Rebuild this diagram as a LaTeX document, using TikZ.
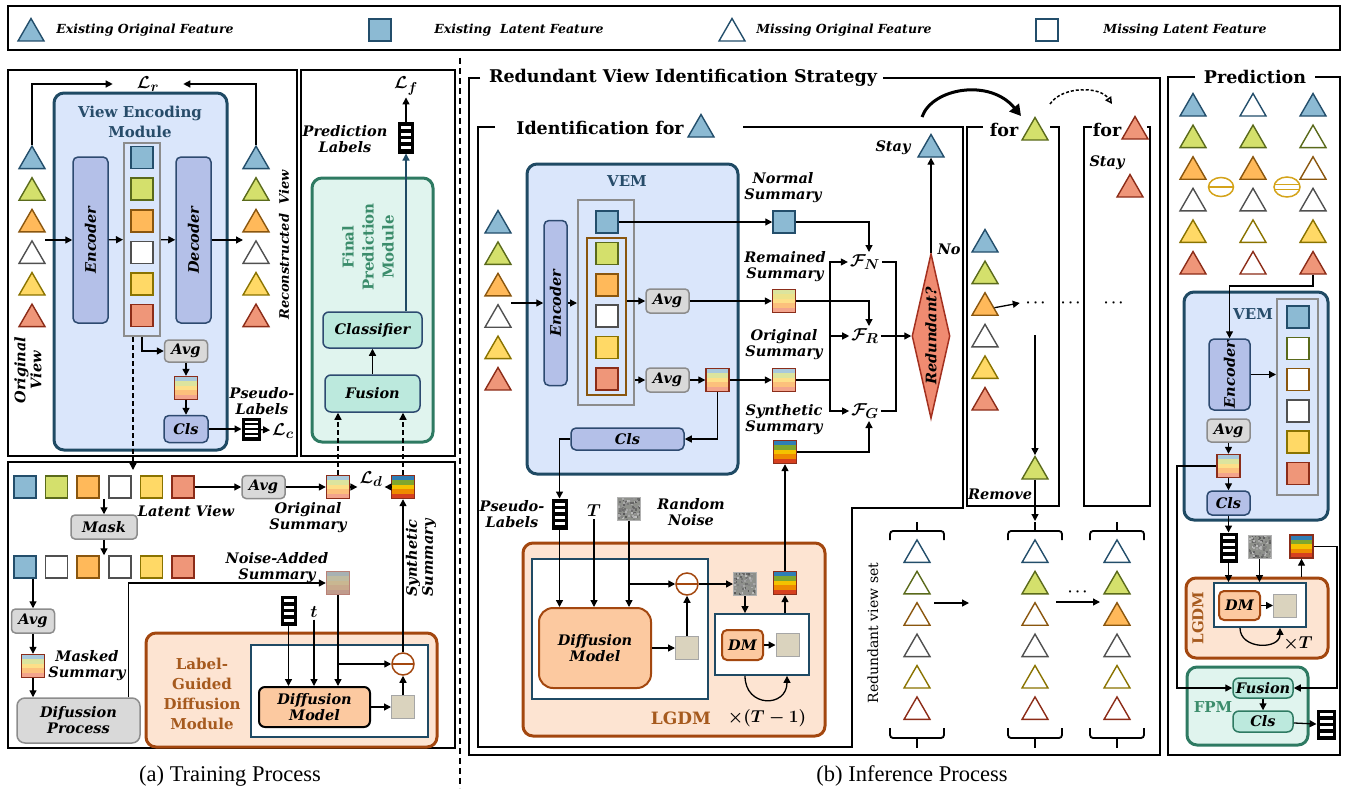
\documentclass[tikz,border=0pt]{standalone}
\usepackage{fontspec}
\setmainfont{DejaVu Serif}
\newfontfamily\capfont{Liberation Serif}
\usepackage{amsmath,bm}
\usetikzlibrary{arrows.meta,positioning,shapes.geometric,calc}

% feature colours (L = fill, D = border, o... = missing)
\definecolor{vblueL}{HTML}{8CBAD3}\definecolor{vblueD}{HTML}{234E6B}
\definecolor{vgreenL}{HTML}{D4E06C}\definecolor{vgreenD}{HTML}{5A6A1B}
\definecolor{vorangeL}{HTML}{FFB95A}\definecolor{vorangeD}{HTML}{8A560E}
\definecolor{vgrayL}{HTML}{FFFFFF}\definecolor{vgrayD}{HTML}{505050}
\definecolor{vyellowL}{HTML}{FFD966}\definecolor{vyellowD}{HTML}{8A7300}
\definecolor{vredL}{HTML}{EF9679}\definecolor{vredD}{HTML}{8C2C18}
\colorlet{oblueL}{white}\colorlet{oblueD}{vblueD}
\colorlet{ogreenL}{white}\colorlet{ogreenD}{vgreenD}
\colorlet{oorangeL}{white}\colorlet{oorangeD}{vorangeD}
\colorlet{ograyL}{white}\colorlet{ograyD}{vgrayD}
\colorlet{oyellowL}{white}\colorlet{oyellowD}{vyellowD}
\colorlet{oredL}{white}\colorlet{oredD}{vredD}
% module colours
\definecolor{vemF}{HTML}{DAE6FB}\definecolor{vemD}{HTML}{1F4A64}\definecolor{vemT}{HTML}{274C6A}
\definecolor{encF}{HTML}{B4C0E8}\definecolor{encD}{HTML}{2D4A70}
\definecolor{avgF}{HTML}{D9D9D9}\definecolor{avgD}{HTML}{8C8C8C}
\definecolor{fpmF}{HTML}{E0F4EE}\definecolor{fpmD}{HTML}{2E7A62}\definecolor{fpmT}{HTML}{3B8C6B}
\definecolor{clsF}{HTML}{BCE9DD}
\definecolor{lgF}{HTML}{FDE4D2}\definecolor{lgD}{HTML}{A3470F}\definecolor{lgT}{HTML}{A65A1E}
\definecolor{dmF}{HTML}{FCC9A0}
\definecolor{redF}{HTML}{F08B71}\definecolor{redD}{HTML}{A3301F}
\definecolor{sumD}{HTML}{8B2D1A}
\definecolor{noiseA}{HTML}{8E908B}
\definecolor{beigeC}{HTML}{DAD3BE}
\definecolor{goldC}{HTML}{D4A31A}
% summary stripes
\definecolor{oS1}{HTML}{A9C9DC}\definecolor{oS2}{HTML}{DCE49E}\definecolor{oS3}{HTML}{FDDF88}
\definecolor{oS4}{HTML}{FCC07C}\definecolor{oS5}{HTML}{F3A48C}
\definecolor{sS1}{HTML}{2F7EB5}\definecolor{sS2}{HTML}{7FA62E}\definecolor{sS3}{HTML}{F4C300}
\definecolor{sS4}{HTML}{EE8A00}\definecolor{sS5}{HTML}{D6401F}
\definecolor{rS1}{HTML}{DCE49E}\definecolor{rS2}{HTML}{EDE28A}
\definecolor{nS1}{HTML}{A7B1B3}\definecolor{nS2}{HTML}{BFBBA0}\definecolor{nS3}{HTML}{C9B791}
\definecolor{nS4}{HTML}{C8A98C}\definecolor{nS5}{HTML}{C09B8C}

\newcommand\labfont{\fontsize{14.5}{16}\selectfont\bfseries\itshape}
\newcommand\legfont{\fontsize{12.5}{14}\selectfont\bfseries\itshape}
\newcommand\titfont{\fontsize{17.5}{20}\selectfont\bfseries}
\newcommand\modfont{\fontsize{15}{20}\selectfont\bfseries}
\newcommand\stripes[5]{%
  \foreach \stc [count=\sti from 0] in {#1,#2,#3,#4,#5}{%
    \fill[fill=\stc] ($(path picture bounding box.north west)!{\sti/5}!(path picture bounding box.south west)$)
      rectangle ($(path picture bounding box.north east)!{(\sti+1)/5}!(path picture bounding box.south east)$);}}
\newcommand\specks{%
  \foreach \q in {1,...,90}{%
    \pgfmathsetmacro\gx{23*rnd}\pgfmathsetmacro\gy{23*rnd}\pgfmathsetmacro\gs{int(35+40*rnd)}%
    \fill[fill=white!\gs!black] ($(path picture bounding box.north west)+(\gx,\gy)$) rectangle +(2,2);}}
\pgfmathsetseed{11}

\begin{document}
\begin{tikzpicture}[x=1pt, y=-1pt,
  frame/.style={line width=1.8pt},
  line/.style={line width=1.3pt},
  arr/.style={-{Triangle[length=7pt,width=7pt]}, line width=1.3pt},
  darr/.style={arr, dash pattern=on 5pt off 3pt},
  txt/.style={font=\labfont, align=center, inner sep=0pt},
  mathn/.style={inner sep=2pt, font=\fontsize{19}{21}\selectfont\boldmath},
  tri/.style={regular polygon, regular polygon sides=3, minimum size=30pt, inner sep=0pt,
    line width=1.4pt, yshift=-3.5pt, draw=#1D, fill=#1L},
  sq/.style={rectangle, minimum size=22pt, inner sep=0pt, line width=1.5pt, draw=#1D, fill=#1L},
  sumbox/.style={rectangle, minimum size=23pt, inner sep=0pt, line width=1.4pt, draw=sumD},
  osum/.style={sumbox, path picture={\stripes{oS1}{oS2}{oS3}{oS4}{oS5}}},
  rsum/.style={sumbox, path picture={\stripes{rS1}{rS2}{oS3}{oS4}{oS5}}},
  ssum/.style={sumbox, path picture={\stripes{sS1}{sS2}{sS3}{sS4}{sS5}}},
  nsum/.style={sumbox, draw=sumD!60, path picture={\stripes{nS1}{nS2}{nS3}{nS4}{nS5}}},
  noisy/.style={rectangle, minimum size=23pt, inner sep=0pt, line width=1pt, draw=gray!60,
    fill=noiseA, path picture={\specks}},
  beige/.style={rectangle, minimum size=23pt, inner sep=0pt, line width=1pt, draw=gray!70, fill=beigeC},
  labs/.style={rectangle, fill=black, draw=black, line width=1pt, inner sep=0pt,
    path picture={\foreach \lk in {0,1,2,3}{\fill[white]
      ($(path picture bounding box.north west)!{0.12+0.22*\lk}!(path picture bounding box.south west)+(2.5,0)$) rectangle
      ($(path picture bounding box.north east)!{0.22+0.22*\lk}!(path picture bounding box.south east)+(-2.5,0)$);}}},
  module/.style={rectangle, rounded corners=10pt, line width=3pt, inner sep=0pt},
  vembox/.style={module, fill=vemF, draw=vemD},
  fpmbox/.style={module, fill=fpmF, draw=fpmD},
  lgdmbox/.style={module, fill=lgF, draw=lgD},
  encbox/.style={rectangle, rounded corners=5pt, line width=1.5pt, fill=encF, draw=encD, font=\labfont, inner sep=0pt},
  avgbox/.style={rectangle, rounded corners=4pt, line width=1.5pt, fill=avgF, draw=avgD, font=\labfont, align=center, inner sep=0pt},
  fpmin/.style={rectangle, rounded corners=6pt, line width=1.5pt, fill=clsF, draw=encD, font=\labfont, inner sep=0pt},
  dmbox/.style={rectangle, rounded corners=6pt, line width=2pt, fill=dmF, draw=lgD, font=\labfont, align=center, inner sep=0pt},
  whitebox/.style={rectangle, line width=1.8pt, draw=vemD, fill=white, inner sep=0pt},
  latcol/.style={rectangle, line width=2pt, draw=avgD, inner sep=0pt},
  minus/.style={circle, draw=#1, line width=1.5pt, minimum size=22pt, inner sep=0pt,
    path picture={\draw[draw=#1, line width=1.5pt] (path picture bounding box.west) -- (path picture bounding box.east);}},
  eqs/.style={ellipse, draw=#1, line width=1.5pt, minimum width=26pt, minimum height=20pt, inner sep=0pt,
    path picture={\draw[draw=#1, line width=1.5pt]
      ($(path picture bounding box.west)+(0,-2.5)$) -- ($(path picture bounding box.east)+(0,-2.5)$)
      ($(path picture bounding box.west)+(0,2.5)$) -- ($(path picture bounding box.east)+(0,2.5)$);}},
  brc/.style={line width=1.8pt, rounded corners=3pt}
]
\useasboundingbox (0,0) rectangle (1348,800);

% legend
\draw[frame] (8,6) rectangle (1340,50);
\node[tri=vblue] (lgA) at (31,30) {};
\node[txt, font=\legfont] (lgAt) at (145,30) {Existing Original Feature};
\node[sq=vblue] (lgB) at (380,30) {};
\node[txt, font=\legfont] (lgBt) at (519,30) {Existing\ \ Latent Feature};
\node[tri=oblue] (lgC) at (732,30) {};
\node[txt, font=\legfont] (lgCt) at (844,30) {Missing Original Feature};
\node[sq=oblue] (lgD) at (1047,30) {};
\node[txt, font=\legfont] (lgDt) at (1185,30) {Missing Latent Feature};

% frames
\draw[frame] (8,70) rectangle (297,456);
\draw[frame] (301,70) rectangle (455,456);
\draw[frame] (8,462) rectangle (455,748);
\draw[line width=1.3pt, dash pattern=on 6pt off 4pt] (460,58) -- (460,788);

% ---------------- (a) view encoding module
\node[vembox, minimum width=173pt, minimum height=357pt] (vemA) at (140.5,271.5) {};
\node[txt, font=\modfont, text=vemT] (vemAt) at (140,122) {View Encoding\\Module};
\node[encbox, rotate=90, minimum width=166pt, minimum height=35pt] (encA) at (90.5,240) {Encoder};
\node[latcol, minimum width=36pt, minimum height=193pt] (colA) at (142,239.5) {};
\node[encbox, rotate=90, minimum width=166pt, minimum height=35pt] (decA) at (193.5,240) {Decoder};
\foreach \cl [count=\i] in {vblue,vgreen,vorange,vgray,vyellow,vred}{
  \node[tri=\cl] (tL\i) at (32,{126+31.6*\i}) {};
  \node[sq=\cl] (lA\i) at (142,{126+31.6*\i}) {};
  \node[tri=\cl] (tR\i) at (256,{126+31.6*\i}) {};
}
\coordinate (inA) at (45,240);
\coordinate (outA) at (243,240);
\draw[arr] (inA) -- (encA);
\draw[arr] (encA) -- (colA);
\draw[arr] (colA) -- (decA);
\draw[arr] (decA) -- (outA);
\node[mathn] (lr) at (148,84) {$\mathcal{L}_r$};
\draw[arr] (tL1.north) |- ([xshift=-22pt]lr.west);
\draw[arr] (tR1.north) |- ([xshift=22pt]lr.east);
\node[txt, rotate=90] (ovA) at (28,370) {Original\\View};
\node[txt, font=\fontsize{13}{15}\selectfont\bfseries\itshape, rotate=90] (rvA) at (284,245) {Reconstructed\ \ View};
\node[avgbox, minimum width=43pt, minimum height=22pt] (avgA) at (186,351) {Avg};
\node[osum] (sumA) at (186,388) {};
\node[encbox, minimum width=44pt, minimum height=27pt] (clsA) at (186,429) {Cls};
\node[labs, minimum width=18pt, minimum height=22pt] (labA) at (251,429) {};
\node[mathn] (lc) at (283,431) {$\mathcal{L}_c$};
\node[txt] (plA) at (262,401) {Pseudo-\\Labels};
\draw[arr] (colA.south) |- (avgA);
\draw[arr] (avgA) -- (sumA);
\draw[arr] (sumA) -- (clsA);
\draw[arr] (clsA) -- (labA);
\draw[arr] (labA) -- (lc);
\coordinate (latIn) at (133,470);
\draw[darr] ([xshift=-9pt]colA.south) -- (latIn);

% ---------------- (a) final prediction module
\node[fpmbox, minimum width=121pt, minimum height=264pt] (fpmA) at (372.5,310) {};
\node[txt, font=\modfont, text=fpmT, rotate=90] (fpmAt) at (368,247) {Final\\Prediction\\Module};
\node[fpmin, minimum width=99pt, minimum height=36pt] (classA) at (372.5,330) {Classifier};
\node[fpmin, minimum width=95pt, minimum height=37pt] (fusA) at (372.5,393.5) {Fusion};
\node[labs, minimum width=15pt, minimum height=31pt] (labF) at (406,137.5) {};
\node[txt] (plF) at (345,139) {Prediction\\Labels};
\node[mathn] (lf) at (406,86) {$\mathcal{L}_f$};
\draw[arr] (fusA) -- (classA);
\draw[arr, draw=vemD] (classA.north -| labF) -- (labF);
\draw[arr] (labF) -- (lf);

% ---------------- (a) label-guided diffusion training
\foreach \cl [count=\i] in {vblue,vgreen,vorange,vgray,vyellow,vred}
  \node[sq=\cl] (rA\i) at ({25+31.6*(\i-1)},487) {};
\foreach \cl [count=\i] in {vblue,vgray,vorange,vgray,vyellow,vred}
  \node[sq=\cl] (rB\i) at ({25+31.6*(\i-1)},567) {};
\node[avgbox, minimum width=43pt, minimum height=23pt] (avgB) at (263.5,487) {Avg};
\node[osum] (sumO) at (338,487) {};
\node[ssum] (sumS) at (403,487) {};
\node[mathn] (ld) at (371,479) {$\mathcal{L}_d$};
\node[txt] (lvA) at (186,511) {Latent View};
\node[txt] (osA) at (308,518) {Original\\Summary};
\draw[arr] (rA6) -- (avgB);
\draw[arr] (avgB) -- (sumO);
\draw[arr] (sumO.east) -- (sumO.east -| ld.west);
\draw[arr] (sumS.west) -- (sumS.west -| ld.east);
\node[avgbox, minimum width=66pt, minimum height=24pt] (maskA) at (104,527) {Mask};
\draw[arr] ($(rA3.south)!0.5!(rA4.south)$) -- (maskA);
\draw[arr] (maskA) -- ($(rB3.north)!0.5!(rB4.north)$);
\node[avgbox, minimum width=43pt, minimum height=24pt] (avgC) at (33,621) {Avg};
\node[osum] (sumM) at (33,666) {};
\node[txt] (msA) at (87,666) {Masked\\Summary};
\node[avgbox, rounded corners=8pt, minimum width=123pt, minimum height=45pt] (diffP) at (78.5,720.5) {Difussion\\Process};
\draw[arr] (rB1.south -| avgC) -- (avgC);
\draw[arr] (avgC) -- (sumM);
\draw[arr] (sumM) -- (sumM |- diffP.north);
\node[nsum] (sumN) at (338,583) {};
\node[txt] (nsA) at (277,568) {Noise-Added\\Summary};
\draw[arr] ([xshift=50pt]diffP.north) |- (sumN);
\node[labs, minimum width=15pt, minimum height=29pt] (labB) at (288.5,610.5) {};
\node[mathn] (tA) at (314,612) {$t$};
\node[lgdmbox, minimum width=291pt, minimum height=114pt] (lgdmA) at (291.5,690) {};
\node[txt, font=\modfont, text=lgT] (lgdmAt) at (202,694) {Label-\\Guided\\Diffusion\\Module};
\node[whitebox, minimum width=177pt, minimum height=92pt] (wA) at (339.5,691) {};
\node[dmbox, draw=black, minimum width=111pt, minimum height=40pt] (dmA) at (314.5,707) {Diffusion\\Model};
\node[minus=lgD] (minusA) at (403,664) {};
\node[beige] (outA2) at (403,707) {};
\draw[arr] (labB) -- (labB |- dmA.north);
\draw[arr] (tA) -- (tA |- dmA.north);
\draw[arr] (sumN) -- (sumN |- dmA.north);
\draw[arr] (sumN |- minusA) -- (minusA);
\draw[arr] (dmA) -- (outA2);
\draw[arr] (outA2) -- (minusA);
\draw[arr] (minusA) -- (sumS);
\node[txt, rotate=90] (ssA) at (421,558) {Synthetic\\Summary};
\draw[darr] (sumO) -- (sumO |- fusA.south);
\draw[darr] (sumS) -- (sumS |- fusA.south);

% ---------------- (b) redundant view identification
\draw[frame] (480,78) -- (469,78) -- (469,755) -- (1160,755) -- (1160,78) -- (883,78);
\node[txt, font=\titfont] (stratT) at (683,78) {Redundant View Identification Strategy};
\draw[frame] (495,127) -- (478,127) -- (478,747) -- (852,747) -- (852,508) -- (963,508) -- (963,127) -- (743,127);
\node[txt, font=\titfont] (idT) at (600,128) {Identification for};
\node[tri=vblue] (idTri) at (701,126) {};

\node[vembox, minimum width=211pt, minimum height=310pt] (vemB) at (632.5,319) {};
\node[txt, font=\fontsize{15}{17}\selectfont\bfseries, text=vemT] (vemBt) at (627,181) {VEM};
\node[encbox, rotate=90, minimum width=165pt, minimum height=23pt] (encB) at (555.5,303) {Encoder};
\node[latcol, minimum width=56pt, minimum height=205pt] (colB) at (606,302.5) {};
\node[rectangle, draw=vorangeD, line width=2pt, minimum width=39pt, minimum height=157pt] (brB) at (606.5,316.5) {};
\node[sq=vblue] (sqB0) at (607,222) {};
\foreach \cl [count=\i] in {vblue,vgreen,vorange,vgray,vyellow,vred}
  \node[tri=\cl] (tB\i) at (498,{190.6+31.4*\i}) {};
\foreach \cl [count=\i] in {vgreen,vorange,vgray,vyellow,vred}
  \node[sq=\cl] (sqB\i) at (607,{222+31.4*\i}) {};
\coordinate (inB) at (511,303);
\draw[arr] (inB) -- (encB);
\draw[arr] (encB) -- (encB -| colB.west);
\node[avgbox, minimum width=43pt, minimum height=24pt] (avgB1) at (667.5,301) {Avg};
\node[avgbox, minimum width=43pt, minimum height=24pt] (avgB2) at (667.5,380) {Avg};
\node[osum] (sumB) at (717.5,380) {};
\node[encbox, minimum width=113pt, minimum height=22pt] (clsB) at (627.5,439) {Cls};
\draw[arr] (brB.east |- avgB1) -- (avgB1);
\draw[arr] (colB.east |- avgB2) -- (avgB2);
\draw[arr] (avgB2) -- (sumB);
\draw[arr] (sumB) |- (clsB);

\node[sq=vblue] (normB) at (784,222) {};
\node[txt] (nsT) at (783,188) {Normal\\Summary};
\node[rsum] (remB) at (784,301) {};
\node[txt] (rsT) at (785,267) {Remained\\Summary};
\node[osum] (origB) at (784,380) {};
\node[txt] (osT) at (784,345) {Original\\Summary};
\node[ssum] (synB) at (785,452) {};
\node[txt] (ssT) at (784,420) {Synthetic\\Summary};
\draw[arr] (sqB0) -- (normB);
\draw[arr] (avgB1) -- (remB);
\draw[arr] (sumB) -- (origB);

\node[mathn] (fN) at (865,262) {$\mathcal{F}_N$};
\node[mathn] (fR) at (865,336) {$\mathcal{F}_R$};
\node[mathn] (fG) at (865,411) {$\mathcal{F}_G$};
\draw[arr] (normB) -| ([xshift=4pt]fN.north);
\draw[arr] (remB) -| ([xshift=4pt]fR.north);
\draw[arr] (synB) -| ([xshift=4pt]fG.south);
\coordinate (busL) at (830,380);
\coordinate (busR) at (896,336);
\draw[line] (origB) -- (busL);
\draw[arr] (busL) |- (fN);
\draw[arr] (busL) |- (fG);
\draw[arr] (busL |- fR) -- (fR);
\draw[line] (fN) -| (busR);
\draw[line] (fG) -| (busR);
\node[diamond, aspect=4, rotate=90, minimum width=165pt, minimum height=38pt, inner sep=0pt,
  fill=redF, draw=redD, line width=1.5pt, font=\labfont] (redq) at (931,336) {Redundant?};
\draw[arr] (fR) -- (redq.north);
\node[tri=vblue] (stayT) at (931,146) {};
\node[txt] (stayTx) at (893,148) {Stay};
\node[txt] (noT) at (949,249) {No};
\draw[arr] (redq.east) -- (stayT.south);

% moving to the next view
\coordinate (cvA) at (922,117);
\coordinate (cvB) at (1021,116);
\draw[line width=3pt, -{Triangle[length=11pt,width=12pt]}] (cvA) .. controls (932,88) and (990,78) .. (cvB);
\coordinate (cvC) at (1050,104);
\coordinate (cvD) at (1112,104);
\draw[line width=1.5pt, dash pattern=on 3pt off 2pt, -{Triangle[open,length=7pt,width=7pt]}] (cvC) .. controls (1062,86) and (1100,86) .. (cvD);

\draw[frame] (983,127) -- (967,127) -- (967,506) -- (1059,506) -- (1059,127) -- (1050,127);
\node[txt, font=\titfont] (forG) at (1004,130) {for};
\node[tri=vgreen] (forGT) at (1035,129) {};
\draw[frame] (1092,127) -- (1084,127) -- (1084,506) -- (1150,506) -- (1150,127) -- (1147,127);
\node[txt, font=\titfont] (forR) at (1107,130) {for};
\node[tri=vred] (forRT) at (1135,128) {};
\node[txt] (stayR) at (1107,163) {Stay};
\node[tri=vred] (stayRT) at (1130,186) {};
\foreach \cl [count=\i] in {vblue,vgreen,vorange,vgray,vyellow,vred}
  \node[tri=\cl] (gT\i) at (985,{209.4+31.6*\i}) {};
\node[txt, font=\fontsize{15}{17}\selectfont\boldmath] (dotsG) at (1037,303) {$\cdots$};
\node[txt, font=\fontsize{15}{17}\selectfont\boldmath] (dotsM) at (1072,303) {$\cdots$};
\node[txt, font=\fontsize{15}{17}\selectfont\boldmath] (dotsR) at (1115,303) {$\cdots$};
\draw[arr] (gT3.east) -- ([xshift=-6pt]dotsG.west);
\coordinate (rmTop) at (1035,335);
\node[tri=vgreen] (rmT) at (1035,468) {};
\node[txt] (rmX) at (1000,494) {Remove};
\coordinate (brG) at (1035,521);
\draw[arr] (rmTop) -- (rmT);
\draw[arr] (rmT) -- (brG);

% redundant view sets
\foreach \cx in {917,1035,1117}{
  \draw[brc] (\cx-27,540) -- (\cx-27,531) -- (\cx+27,531) -- (\cx+27,540);
  \draw[brc] (\cx,531) -- (\cx,522);
  \draw[brc] (\cx-27,728) -- (\cx-27,738) -- (\cx+27,738) -- (\cx+27,728);
  \draw[brc] (\cx,738) -- (\cx,748);
}
\foreach \cl [count=\i] in {oblue,ogreen,oorange,ogray,oyellow,ored}
  \node[tri=\cl] (rvA\i) at (917,{520+31.4*\i}) {};
\foreach \cl [count=\i] in {oblue,vgreen,oorange,ogray,oyellow,ored}
  \node[tri=\cl] (rvB\i) at (1035,{520+31.4*\i}) {};
\foreach \cl [count=\i] in {oblue,vgreen,vorange,ogray,oyellow,ored}
  \node[tri=\cl] (rvC\i) at (1117,{520+31.4*\i}) {};
\node[txt, font=\fontsize{14}{16}\selectfont, rotate=90] (rvsT) at (873,633) {Redundant view set};
\coordinate (setA) at (934,603);
\coordinate (setB) at (969,603);
\coordinate (setC) at (1056,602);
\coordinate (setD) at (1100,602);
\draw[arr] (setA) -- (setB);
\draw[arr] (setC) -- (setD);
\node[txt, font=\fontsize{15}{17}\selectfont\boldmath] (dotsS) at (1079,592) {$\cdots$};

% label-guided diffusion at inference
\node[labs, minimum width=15pt, minimum height=30pt] (labP) at (559.5,514) {};
\node[txt] (plB) at (512,514) {Pseudo-\\Labels};
\node[mathn] (TB) at (594,511) {$T$};
\node[noisy] (noiseB) at (629,508.5) {};
\node[txt] (rnT) at (691,512) {Random\\Noise};
\draw[arr] (clsB) -| (labP);
\node[lgdmbox, minimum width=302pt, minimum height=193pt] (lgdmB) at (674,639.5) {};
\node[txt, font=\fontsize{17}{20}\selectfont\bfseries, text=lgT] (lgdmBt) at (681,718) {LGDM};
\node[mathn, font=\fontsize{16}{18}\selectfont\boldmath] (timesB) at (767,718) {$\times(T-1)$};
\node[whitebox, minimum width=176pt, minimum height=140pt] (wB1) at (620,629) {};
\node[dmbox, rounded corners=14pt, minimum width=112pt, minimum height=80pt] (dmB) at (595,648) {Diffusion\\Model};
\node[minus=lgD] (minusB) at (687,584) {};
\node[beige] (outB) at (687,648) {};
\draw[arr] (labP) -- (labP |- dmB.north);
\draw[arr] (TB) -- (TB |- dmB.north);
\draw[arr] (noiseB) -- (noiseB |- dmB.north);
\draw[arr] (noiseB |- minusB) -- (minusB);
\draw[arr] (dmB) -- (outB);
\draw[arr] (outB) -- (minusB);
\node[noisy] (noiseB2) at (745,584) {};
\draw[arr] (minusB) -- (noiseB2);
\node[whitebox, minimum width=94pt, minimum height=61pt] (wB2) at (762,644.5) {};
\node[dmbox, rounded corners=5pt, minimum width=41pt, minimum height=30pt] (dmS) at (742.5,645) {DM};
\node[beige] (outB2) at (787.5,645) {};
\node[ssum] (synL) at (785,583) {};
\draw[arr] (dmS) -- (outB2);
\draw[arr] (noiseB2) -- (noiseB2 |- wB2.north);
\draw[arr] (synL |- wB2.north) -- (synL);
\draw[arr] (synL) -- (synB);
\draw[arr] ([xshift=-17pt]wB2.south) .. controls +(0,32) and +(0,32) .. ([xshift=25pt]wB2.south);

% ---------------- (b) prediction
\draw[frame] (1195,77) -- (1168,77) -- (1168,755) -- (1340,755) -- (1340,77) -- (1315,77);
\node[txt, font=\titfont] (predT) at (1255,77) {Prediction};
\foreach \cl [count=\i] in {vblue,vgreen,vorange,vgray,vyellow,vred}
  \node[tri=\cl] (pA\i) at (1193,{73.4+31.6*\i}) {};
\foreach \cl [count=\i] in {oblue,vgreen,vorange,ogray,oyellow,ored}
  \node[tri=\cl] (pB\i) at (1253,{73.4+31.6*\i}) {};
\foreach \cl [count=\i] in {vblue,ogreen,oorange,ogray,vyellow,vred}
  \node[tri=\cl] (pC\i) at (1313,{73.4+31.6*\i}) {};
\node[minus=goldC, ellipse, minimum width=25pt, minimum height=19pt] (minusP) at (1221,187) {};
\node[eqs=goldC] (eqP) at (1287,187) {};
\node[vembox, minimum width=144pt, minimum height=228pt] (vemP) at (1256,406) {};
\node[txt, font=\fontsize{15}{17}\selectfont\bfseries, text=vemT] (vemPt) at (1253,314) {VEM};
\node[encbox, rotate=90, minimum width=71pt, minimum height=41pt] (encP) at (1229.5,374.5) {Encoder};
\node[latcol, minimum width=41pt, minimum height=196pt] (colP) at (1297.5,397) {};
\foreach \cl [count=\i] in {vblue,ogreen,oorange,ogray,vyellow,vred}
  \node[sq=\cl] (sqP\i) at (1298,{285.7+31.3*\i}) {};
\coordinate (kinkP) at (1313,286);
\draw[arr] (pC6) -- (kinkP) -| (encP);
\draw[arr] (encP) -- (encP -| colP.west);
\node[avgbox, minimum width=43pt, minimum height=23pt] (avgP) at (1228.5,430.5) {Avg};
\node[osum] (sumP) at (1228.5,466) {};
\node[encbox, minimum width=43pt, minimum height=24pt] (clsP) at (1228.5,503) {Cls};
\draw[arr] (avgP) -- (sumP);
\draw[arr] (sumP) -- (clsP);
\node[labs, minimum width=17pt, minimum height=29pt] (labPP) at (1228.5,547.5) {};
\node[noisy] (noiseP) at (1259.5,546.5) {};
\node[ssum] (synP) at (1301.5,546.5) {};
\draw[arr] (clsP) -- (labPP);
\node[lgdmbox, minimum width=142pt, minimum height=80pt] (lgdmP) at (1257,618) {};
\node[txt, font=\modfont, text=lgT, rotate=90] (lgdmPt) at (1198,618) {LGDM};
\node[whitebox, minimum width=92pt, minimum height=44pt] (wP) at (1260,605) {};
\node[dmbox, rounded corners=5pt, minimum width=41pt, minimum height=29pt] (dmP) at (1239.5,605.5) {DM};
\node[beige] (outP) at (1285,605.5) {};
\draw[arr] (dmP) -- (outP);
\draw[arr] (labPP) -- (labPP |- wP.north);
\draw[arr] (noiseP) -- (noiseP |- wP.north);
\draw[arr] (synP |- lgdmP.north) -- (synP);
\draw[arr] ([xshift=-20pt]wP.south) .. controls +(0,22) and +(0,22) .. ([xshift=20pt]wP.south);
\node[mathn, font=\fontsize{16}{18}\selectfont\boldmath] (timesP) at (1298,644) {$\times T$};
\node[fpmbox, minimum width=121pt, minimum height=78pt] (fpmP) at (1247.5,706) {};
\node[txt, font=\modfont, text=fpmT] (fpmPt) at (1213,707) {FPM};
\node[fpmin, draw=fpmD, minimum width=60pt, minimum height=20pt] (fusP) at (1263,688) {Fusion};
\node[fpmin, draw=fpmD, minimum width=60pt, minimum height=21pt] (clsP2) at (1263,721.5) {Cls};
\node[labs, minimum width=18pt, minimum height=29pt] (labO) at (1326,724.5) {};
\draw[arr] (fusP) -- (clsP2);
\draw[arr] (clsP2) -- (labO);
\coordinate (busPL) at (1177,466);
\coordinate (busPR) at (1337,546.5);
\draw[arr] (sumP) -- (busPL) |- (fusP);
\draw[arr] (synP) -- (busPR) |- (fusP);

% captions
\node[font=\capfont\fontsize{22.5}{26}\selectfont, inner sep=0pt] (capA) at (230,776) {(a) Training Process};
\node[font=\capfont\fontsize{22.5}{26}\selectfont, inner sep=0pt] (capB) at (912,776) {(b) Inference Process};
\end{tikzpicture}
\end{document}
